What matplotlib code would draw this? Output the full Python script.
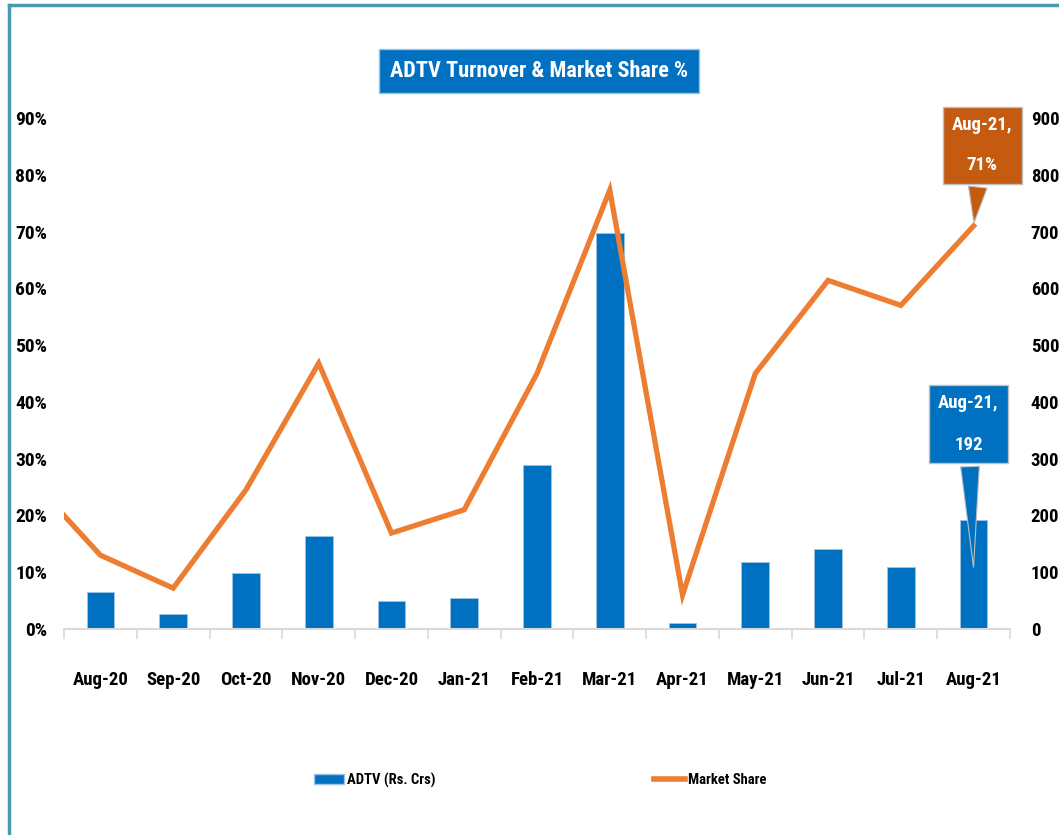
import matplotlib
matplotlib.use("Agg")
import matplotlib.pyplot as plt
from matplotlib.lines import Line2D
from matplotlib import font_manager
import numpy as np

# 字体: 尽量用窄体
names = {f.name for f in font_manager.fontManager.ttflist}
fam = 'DejaVu Sans'
for cand in ['Liberation Sans Narrow', 'Roboto Condensed', 'Open Sans Condensed',
             'DejaVu Sans Condensed']:
    if cand in names:
        fam = cand
        break
plt.rcParams['font.family'] = [fam, 'DejaVu Sans']
plt.rcParams['font.weight'] = 'bold'
plt.rcParams['font.stretch'] = 'condensed'

months = ["Aug-20", "Sep-20", "Oct-20", "Nov-20", "Dec-20", "Jan-21", "Feb-21",
          "Mar-21", "Apr-21", "May-21", "Jun-21", "Jul-21", "Aug-21"]
adtv = [65, 26, 99, 164, 49, 55, 289, 697, 10, 118, 141, 109, 192]
share = [0.13, 0.072, 0.245, 0.468, 0.169, 0.21, 0.45, 0.773, 0.06, 0.45, 0.614, 0.57, 0.71]
share_prev = 0.27  # Jul-20, only its segment shows at the left edge

blue = '#0070C0'
orange = '#ED7D31'

fig = plt.figure(figsize=(10.59, 8.35), dpi=100)
ax = fig.add_axes([64/1059, 1-629/835, (1010-64)/1059, (629-118)/835])
ax2 = ax.twinx()

x = np.arange(len(months))
ax2.bar(x, adtv, width=0.38, color=blue, edgecolor='#9DC3E6', linewidth=0.6)
ax.plot(np.r_[-1, x], [share_prev] + share, color=orange, linewidth=3.8,
        solid_joinstyle='miter')

# 折线放在柱子上面
ax.set_zorder(ax2.get_zorder() + 1)
ax.patch.set_visible(False)

ax.set_xlim(-0.5, len(months) - 0.5)
ax.set_ylim(0, 0.9)
ax2.set_ylim(0, 900)
ax.set_yticks(np.arange(0, 0.91, 0.1))
ax.set_yticklabels([f"{int(round(v*100))}%" for v in np.arange(0, 0.91, 0.1)])
ax2.set_yticks(np.arange(0, 901, 100))

for a in (ax, ax2):
    for s in a.spines.values():
        s.set_visible(False)
ax.spines['bottom'].set_visible(True)
ax.spines['bottom'].set_color('#D9D9D9')
ax.spines['bottom'].set_linewidth(1.5)

ax.set_xticks(x)
ax.set_xticklabels(months)
ax.set_xticks(np.arange(-0.5, len(months), 1), minor=True)
ax.tick_params(axis='x', which='major', length=0, pad=30, labelsize=13.5)
ax.tick_params(axis='x', which='minor', length=7, color='#D9D9D9', width=1.2)
ax.tick_params(axis='y', length=0, pad=12, labelsize=14)
ax2.tick_params(axis='y', length=0, pad=15, labelsize=13.5)

# 标注
ax.annotate("Aug-21,\n71%", xy=(12, share[-1]), xytext=(12.12, 0.852),
            ha='center', va='center', color='white', fontsize=13.5,
            linespacing=2.6, annotation_clip=False,
            bbox=dict(boxstyle='square,pad=0.5', fc='#C55A11', ec='#BFBFBF', lw=1),
            arrowprops=dict(arrowstyle='wedge,tail_width=1.0,shrink_factor=0.5',
                            fc='#C55A11', ec='#BFBFBF', lw=0.8))
ax2.annotate("Aug-21,\n192", xy=(12, 104), xytext=(11.93, 361),
             ha='center', va='center', color='white', fontsize=13.5,
             linespacing=2.7,
             bbox=dict(boxstyle='square,pad=0.5', fc=blue, ec='#BFBFBF', lw=1),
             arrowprops=dict(arrowstyle='wedge,tail_width=1.0,shrink_factor=0.5',
                             fc=blue, ec='#BFBFBF', lw=0.8))

# 标题
fig.text(539/1059, 1-71/835, "ADTV Turnover & Market Share %", ha='center', va='center',
         color='white', fontsize=16,
         bbox=dict(boxstyle='square,pad=0.5', fc=blue, ec='#9DC3E6', lw=1))

# 图例
handles = [plt.Rectangle((0, 0), 1, 1, fc=blue, ec='#9DC3E6'),
           Line2D([0], [0], color=orange, lw=4)]
fig.legend(handles, ["ADTV (Rs. Crs)", "Market Share"], loc='center',
           bbox_to_anchor=(540/1059, 1-780/835), ncol=2, frameon=False,
           fontsize=10.5, handlelength=2.1, handletextpad=0.2, columnspacing=15)

# 外框
fig.add_artist(Line2D([9/1059, 9/1059], [0, 1-5/835], color='#4A9BB0', lw=2.5,
                      transform=fig.transFigure))
fig.add_artist(Line2D([9/1059, 1], [1-5/835, 1-5/835], color='#4A9BB0', lw=2.5,
                      transform=fig.transFigure))

fig.savefig("out.png", dpi=100)
